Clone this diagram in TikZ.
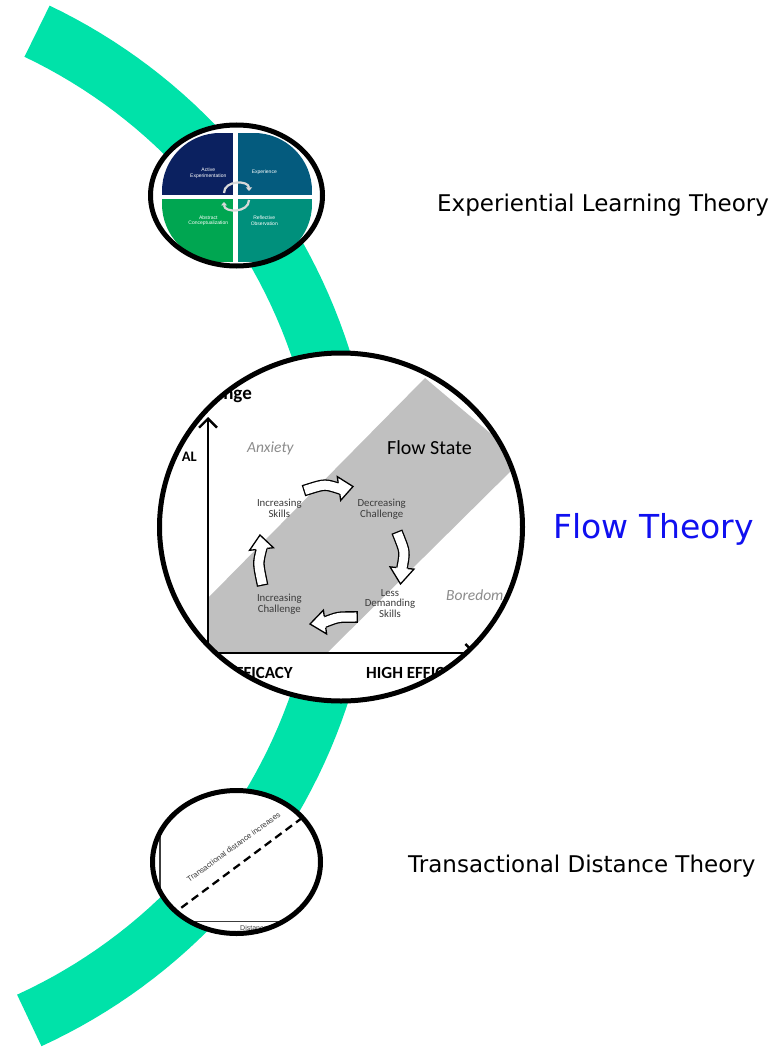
\documentclass[tikz,border=0pt]{standalone}
\usepackage{fontspec}
\setmainfont{DejaVu Sans}
\newfontfamily\chartfont{Carlito}
\newfontfamily\kolbfont{Liberation Sans}
\usetikzlibrary{arrows.meta,calc}
\definecolor{band}{HTML}{00E2A9}
\definecolor{kolbae}{HTML}{0B2160}
\definecolor{kolbex}{HTML}{045B7E}
\definecolor{kolbac}{HTML}{00A651}
\definecolor{kolbro}{HTML}{00907C}
\definecolor{flowgray}{HTML}{C0C0C0}
\definecolor{moodgray}{HTML}{8C8C8C}
\definecolor{textgray}{HTML}{3C3C3C}
\definecolor{flowblue}{HTML}{1010F0}
\newcommand{\flowlens}{(341,527) ellipse [x radius=181.5pt,y radius=174pt]}
\newcommand{\flowarrow}[4]{%
  \draw[line width=1.3pt,double=white,double distance=9pt,line cap=rect] #1 .. controls #2 .. #3;
  \fill[white] ($#3!12pt!90:#4$) -- #4 -- ($#3!12pt!-90:#4$) -- cycle;
  \draw[line width=1.3pt,line join=miter] ($#3!5.8pt!90:#4$) -- ($#3!12pt!90:#4$) -- #4 -- ($#3!12pt!-90:#4$) -- ($#3!5.8pt!-90:#4$);}

\begin{document}
\begin{tikzpicture}[x=1pt,y=-1pt,
  theory/.style={anchor=base west,inner sep=0pt,font=\fontsize{23}{27}\selectfont},
  kolb/.style={text=white,align=center,inner sep=0pt,font=\kolbfont\fontsize{5}{5.5}\selectfont},
  stage/.style={text=textgray,align=center,inner sep=0pt,font=\chartfont\fontsize{10.8}{10.7}\selectfont},
  mood/.style={text=moodgray,anchor=base west,inner sep=0pt,font=\chartfont\itshape\fontsize{15.5}{18}\selectfont},
  axislabel/.style={inner sep=0pt,font=\chartfont\bfseries\fontsize{17}{20}\selectfont},
  lens/.style={line width=5pt}]
  \useasboundingbox (0,0) rectangle (780,1048);
  \draw[band,line width=57pt] plot[domain=-64.5:65.4,samples=90] ({-198+546*cos(\x)},{524+546*sin(\x)});

  \coordinate (kolblens) at (236.5,195.5);
  \fill[white] (kolblens) ellipse [x radius=86pt,y radius=70.5pt];
  \begin{scope}
    \clip (kolblens) ellipse [x radius=86pt,y radius=70.5pt];
    \clip[rounded corners=58pt] (162,133) rectangle (312,262);
    \fill[kolbae] (162,133) rectangle (233.3,195);
    \fill[kolbex] (238.3,133) rectangle (312,195);
    \fill[kolbac] (162,199) rectangle (233.3,262);
    \fill[kolbro] (238.3,199) rectangle (312,262);
  \end{scope}
  \draw[gray!30,line width=2.2pt,-{Triangle[length=3.5pt,width=6pt]}] (224,193) .. controls (224,180) and (249,180) .. (249,191);
  \draw[gray!30,line width=2.2pt,-{Triangle[length=3.5pt,width=6pt]}] (249,200) .. controls (249,213) and (224,213) .. (224,202);
  \node[kolb] (ae) at (208.3,173) {Active\\Experimentation};
  \node[kolb] (ex) at (264.3,172.7) {Experience};
  \node[kolb] (ac) at (208.3,220.5) {Abstract\\Conceptualization};
  \node[kolb] (ro) at (264.3,220.5) {Reflective\\Observation};
  \draw[lens] (kolblens) ellipse [x radius=86pt,y radius=70.5pt];

  \fill[white] \flowlens;
  \begin{scope}
    \clip \flowlens;
    \fill[flowgray] (208,598) -- (425,378) -- (522,460) -- (327,653) -- (208,653) -- cycle;
    \draw[line width=2.3pt,-{Straight Barb[length=9pt,width=18pt]}] (208,655) -- (208,417);
    \draw[line width=2.3pt,-{Straight Barb[length=9pt,width=18pt]}] (207,653) -- (476,653);
    \node[axislabel,anchor=base east,font=\chartfont\bfseries\fontsize{19}{22}\selectfont] (chal) at (252,399) {Challenge};
    \node[axislabel,anchor=base east,font=\chartfont\bfseries\fontsize{14.5}{17}\selectfont] (goal) at (197,461) {AL};
    \node[axislabel,anchor=base east] (loweff) at (293,678) {EFFICACY};
    \node[axislabel,anchor=base west] (higheff) at (366,678) {HIGH EFFICACY};
    \node[mood] (anx) at (247,452) {Anxiety};
    \node[mood] (bore) at (446,600) {Boredom};
    \node[anchor=base west,inner sep=0pt,font=\chartfont\fontsize{20}{24}\selectfont] (fs) at (387,454) {Flow State};
    \node[stage] (incsk) at (279.3,508) {Increasing\\Skills};
    \node[stage] (decch) at (381.7,509) {Decreasing\\Challenge};
    \node[stage] (lessk) at (390,603.5) {Less\\Demanding\\Skills};
    \node[stage] (incch) at (279.3,604) {Increasing\\Challenge};
    \flowarrow{(309,489)}{(325,484)}{(339,488.5)}{(353,486.5)}
    \flowarrow{(399,537)}{(405,552)}{(402,568)}{(400.5,584)}
    \flowarrow{(352,617)}{(338,617)}{(325,622)}{(310,624)}
    \flowarrow{(261.5,580)}{(258,563)}{(261.5,549)}{(260,535)}
  \end{scope}
  \draw[lens] \flowlens;

  \coordinate (tdlens) at (236.5,862);
  \fill[white] (tdlens) ellipse [x radius=84pt,y radius=71.5pt];
  \begin{scope}
    \clip (tdlens) ellipse [x radius=84pt,y radius=71.5pt];
    \draw[textgray,line width=1.4pt] (160,815) -- (160,921.7) -- (340,921.7);
    \draw[line width=2.3pt,dash pattern=on 8pt off 5pt] (150,931) -- (345,786);
    \node[rotate=36,inner sep=0pt,text=textgray,font=\kolbfont\fontsize{7.8}{9}\selectfont] (tdrise) at (233.5,847) {Transactional distance increases};
    \node[anchor=north west,inner sep=0pt,text=textgray,font=\kolbfont\fontsize{7}{8}\selectfont] (tddist) at (240,925) {Distance};
  \end{scope}
  \draw[lens] (tdlens) ellipse [x radius=84pt,y radius=71.5pt];

  \node[theory] (elt) at (437,212) {Experiential Learning Theory};
  \node[theory,text=flowblue,font=\fontsize{33}{38}\selectfont] (flt) at (553,538) {Flow Theory};
  \node[theory] (tdt) at (408,872) {Transactional Distance Theory};
\end{tikzpicture}
\end{document}
